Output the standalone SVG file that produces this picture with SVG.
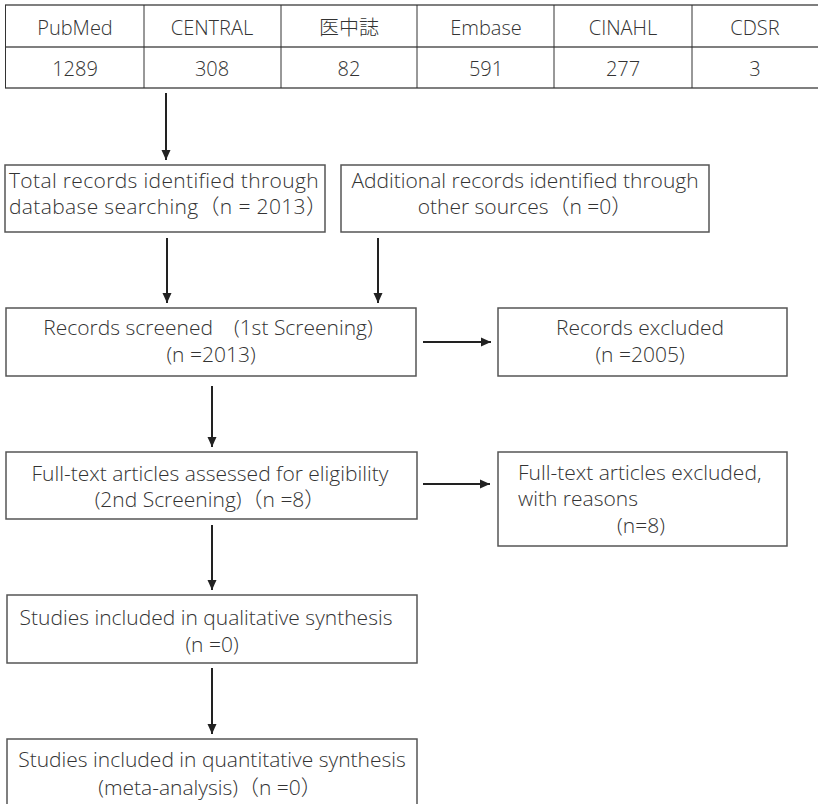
<svg xmlns="http://www.w3.org/2000/svg" width="818" height="804" viewBox="0 0 818 804">
<style>
text{font-family:"Open Sans","Noto Sans CJK JP",sans-serif;font-weight:300;font-size:21px;fill:#333;white-space:pre}
.t{font-size:20px}
.b1{letter-spacing:0.35px}
.m{text-anchor:middle}
.box{fill:#fff;stroke:#555;stroke-width:1.5}
.tl{stroke:#555;stroke-width:1.5;fill:none}
.tv{stroke:#333;stroke-width:1;fill:none}
.c{stroke:#222;stroke-width:2;fill:none;marker-end:url(#ah)}
</style>
<defs>
<marker id="ah" markerWidth="10" markerHeight="10" refX="10" refY="5" orient="auto" markerUnits="userSpaceOnUse">
<path d="M0,0.5 L10,5 L0,9.5 Z" fill="#222"/>
</marker>
</defs>
<rect width="818" height="804" fill="#fff"/>
<g id="table">
<line class="tl" x1="5" y1="5" x2="818" y2="5"/>
<line class="tl" x1="5" y1="47" x2="818" y2="47"/>
<line class="tl" x1="5" y1="88" x2="818" y2="88"/>
<line class="tv" x1="5.5" y1="5" x2="5.5" y2="88"/>
<line class="tv" x1="144" y1="5" x2="144" y2="88"/>
<line class="tv" x1="281" y1="5" x2="281" y2="88"/>
<line class="tv" x1="417" y1="5" x2="417" y2="88"/>
<line class="tv" x1="554" y1="5" x2="554" y2="88"/>
<line class="tv" x1="692" y1="5" x2="692" y2="88"/>
<text class="m t" x="75" y="35">PubMed</text>
<text class="m t" x="212" y="35">CENTRAL</text>
<text class="m t" x="349" y="35">医中誌</text>
<text class="m t" x="486" y="35">Embase</text>
<text class="m t" x="623" y="35">CINAHL</text>
<text class="m t" x="755" y="35">CDSR</text>
<text class="m t" x="75" y="76">1289</text>
<text class="m t" x="212" y="76">308</text>
<text class="m t" x="349" y="76">82</text>
<text class="m t" x="486" y="76">591</text>
<text class="m t" x="623" y="76">277</text>
<text class="m t" x="755" y="76">3</text>
</g>
<g id="identified">
<rect class="box" x="5" y="165" width="320" height="67"/>
<text class="b1" x="9" y="188">Total records identified through</text>
<text class="b1" x="9" y="214">database searching（n = 2013）</text>
</g>
<g id="additional">
<rect class="box" x="341" y="165" width="368" height="67"/>
<text class="m" x="525" y="188">Additional records identified through</text>
<text class="m" x="525" y="214">other sources（n =0）</text>
</g>
<g id="screened">
<rect class="box" x="6" y="308" width="410" height="68"/>
<text class="m" x="208" y="335">Records screened　(1st Screening)</text>
<text class="m" x="211" y="362">(n =2013)</text>
</g>
<g id="excluded">
<rect class="box" x="498" y="308" width="289" height="68"/>
<text class="m" x="640" y="335">Records excluded</text>
<text class="m" x="640" y="362">(n =2005)</text>
</g>
<g id="fulltext">
<rect class="box" x="6" y="452" width="411" height="67"/>
<text class="m" x="210" y="481">Full-text articles assessed for eligibility</text>
<text class="m" x="210" y="507">(2nd Screening)（n =8）</text>
</g>
<g id="ftexcluded">
<rect class="box" x="498" y="452" width="289" height="94"/>
<text x="518" y="480">Full-text articles excluded,</text>
<text x="518" y="506">with reasons</text>
<text class="m" x="641" y="533">(n=8)</text>
</g>
<g id="qualitative">
<rect class="box" x="7" y="595" width="410" height="68"/>
<text class="m" x="206" y="625">Studies included in qualitative synthesis</text>
<text class="m" x="212" y="652">(n =0)</text>
</g>
<g id="quantitative">
<rect class="box" x="7" y="739" width="410" height="70"/>
<text class="m" x="212" y="767">Studies included in quantitative synthesis</text>
<text class="m" x="210" y="795">(meta-analysis)（n =0）</text>
</g>
<g id="connectors">
<line class="c" x1="166" y1="93" x2="166" y2="160"/>
<line class="c" x1="167" y1="238" x2="167" y2="303"/>
<line class="c" x1="378" y1="238" x2="378" y2="303"/>
<line class="c" x1="423" y1="342" x2="491" y2="342"/>
<line class="c" x1="212" y1="386" x2="212" y2="447"/>
<line class="c" x1="423" y1="484" x2="490" y2="484"/>
<line class="c" x1="212" y1="525" x2="212" y2="590"/>
<line class="c" x1="212" y1="668" x2="212" y2="734"/>
</g>
</svg>
